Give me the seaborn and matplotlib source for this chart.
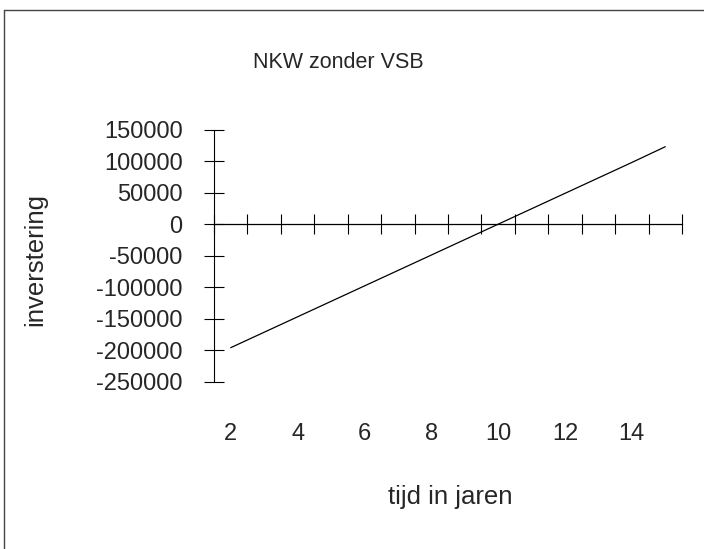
import matplotlib
matplotlib.use("Agg")
import matplotlib.pyplot as plt
from matplotlib.lines import Line2D
from matplotlib.ticker import FixedLocator, NullFormatter
import seaborn as sns
import pandas as pd

# Net present value without VSB, per year
years = [2, 3, 4, 5, 6, 7, 8, 9, 10, 11, 12, 13, 14, 15]
nkw = [-196000, -171500, -147000, -122500, -98000, -73500, -49000,
       -24500, 0, 24500, 49000, 73500, 98000, 123000]
year_labels = [2, 4, 6, 8, 10, 12, 14]
y_ticks = [-250000, -200000, -150000, -100000, -50000, 0, 50000, 100000, 150000]

title = "NKW zonder VSB"
x_title = "tijd in jaren"
y_title = "inverstering"

sns.set_style("white")
plt.rcParams["font.family"] = ["Liberation Sans", "DejaVu Sans"]
FS_TICK = 17
FS_TITLE = 15.5
FS_AXIS = 18.5

df = pd.DataFrame({"jaar": years, "nkw": nkw})

W, H = 704, 549
fig = plt.figure(figsize=(W / 100, H / 100), dpi=100)
left, right, top, bottom = 214, 682, 129.7, 381.7
ax = fig.add_axes([left / W, 1 - bottom / H, (right - left) / W, (bottom - top) / H])

sns.lineplot(data=df, x="jaar", y="nkw", color="black", linewidth=0.9, ax=ax)

ax.set_xlim(years[0] - 0.5, years[-1] + 0.5)
ax.set_ylim(y_ticks[0], y_ticks[-1])

# spines: y axis at the left, x axis through zero
for side in ("top", "right"):
    ax.spines[side].set_visible(False)
ax.spines["left"].set_color("black")
ax.spines["left"].set_linewidth(0.8)
ax.spines["bottom"].set_position(("data", 0))
ax.spines["bottom"].set_color("black")
ax.spines["bottom"].set_linewidth(0.9)

ax.set_yticks(y_ticks)
ax.set_yticklabels([f"{v}" for v in y_ticks], fontsize=FS_TICK)
ax.tick_params(axis="y", left=True, direction="inout", length=15, width=0.8,
               color="black", pad=15)

# category boundary ticks on the zero line
bounds = [y - 0.5 for y in years] + [years[-1] + 0.5]
ax.xaxis.set_major_locator(FixedLocator(bounds))
ax.xaxis.set_major_formatter(NullFormatter())
ax.tick_params(axis="x", bottom=True, direction="inout", length=15, width=0.8,
               color="black")

ax.set_xlabel("")
ax.set_ylabel("")

# year labels below the plot area
sec = ax.secondary_xaxis(-0.165)
sec.set_xticks(year_labels)
sec.set_xticklabels([str(v) for v in year_labels], fontsize=FS_TICK)
sec.tick_params(length=0, pad=0)
sec.spines["bottom"].set_visible(False)

fig.text(338 / W, 1 - 62 / H, title, ha="center", va="center", fontsize=FS_TITLE)
fig.text(450 / W, 1 - 497 / H, x_title, ha="center", va="center", fontsize=FS_AXIS)
fig.text(35 / W, 1 - 259 / H, y_title, ha="center", va="center",
         rotation=90, fontsize=FS_AXIS)

# outer chart frame (top and left edges)
fig.add_artist(Line2D([4 / W, 1.0], [1 - 10 / H, 1 - 10 / H],
                      transform=fig.transFigure, color="#444444", linewidth=1.0))
fig.add_artist(Line2D([4 / W, 4 / W], [0.0, 1 - 10 / H],
                      transform=fig.transFigure, color="#444444", linewidth=1.0))

fig.savefig("out.png", dpi=100, facecolor="white")
